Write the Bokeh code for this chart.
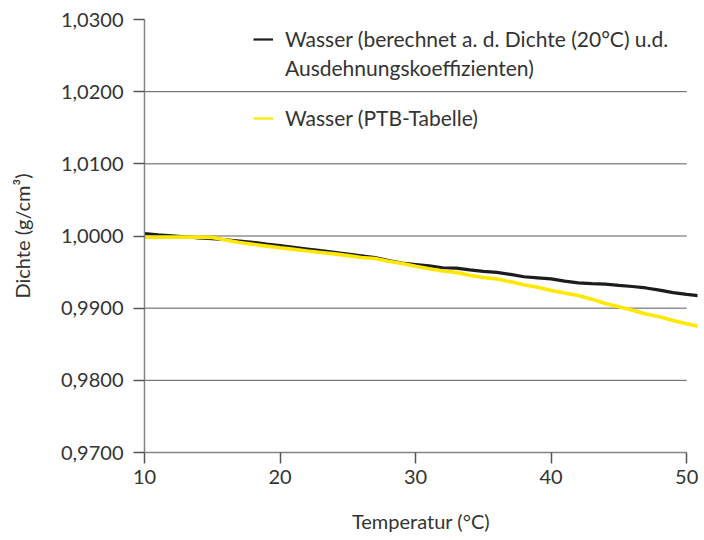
from bokeh.plotting import figure
from bokeh.models import Range1d, FixedTicker, CustomJSTickFormatter, Legend, LegendItem
from bokeh.embed import file_html
from bokeh.resources import INLINE

# ---- data ----
temperature = list(range(10, 52))
density_calc = [
    1.00035, 1.00015, 1.00003, 0.99990, 0.99975, 0.99962, 0.99948, 0.99930,
    0.99912, 0.99888, 0.99866, 0.99843, 0.99820, 0.99797, 0.99775, 0.99750,
    0.99725, 0.99700, 0.99660, 0.99625, 0.99605, 0.99585, 0.99560, 0.99555,
    0.99530, 0.99510, 0.99495, 0.99468, 0.99435, 0.99420, 0.99405, 0.99375,
    0.99350, 0.99340, 0.99332, 0.99315, 0.99300, 0.99280, 0.99250, 0.99215,
    0.99190, 0.99170,
]
density_ptb = [
    0.99985, 0.99985, 0.99985, 0.99985, 0.99985, 0.99980, 0.99945, 0.99910,
    0.99885, 0.99860, 0.99836, 0.99815, 0.99791, 0.99772, 0.99752, 0.99728,
    0.99703, 0.99688, 0.99650, 0.99620, 0.99580, 0.99545, 0.99515, 0.99496,
    0.99455, 0.99425, 0.99405, 0.99365, 0.99325, 0.99290, 0.99245, 0.99210,
    0.99175, 0.99125, 0.99065, 0.99018, 0.98970, 0.98920, 0.98880, 0.98830,
    0.98785, 0.98745,
]
x_ticks = [10, 20, 30, 40, 50]
y_ticks = [0.97, 0.98, 0.99, 1.00, 1.01, 1.02, 1.03]
grid_y = [0.98, 0.99, 1.00, 1.01, 1.02]
label_calc_1 = "Wasser (berechnet a. d. Dichte (20°C) u.d."
label_calc_2 = "Ausdehnungskoeffizienten)"
label_ptb = "Wasser (PTB-Tabelle)"
x_title = "Temperatur (°C)"
y_title = "Dichte (g/cm³)"

FONT = "Lato"
TXT = "#333333"
AX = "#858585"
BLACK = "#1c1c1c"
YELLOW = "#FFE800"

p = figure(width=704, height=540, output_backend="svg", toolbar_location=None,
           x_range=Range1d(10, 50.8), y_range=Range1d(0.97, 1.03),
           min_border_left=144, min_border_right=7, min_border_top=19,
           min_border_bottom=88)
p.outline_line_color = None
p.xgrid.visible = False
p.ygrid.visible = False

# grid lines limited to x-axis bounds
p.segment(x0=[x_ticks[0]] * len(grid_y), y0=grid_y,
          x1=[x_ticks[-1]] * len(grid_y), y1=grid_y,
          line_color="#5a5a5a", line_width=1)

p.line(temperature, density_calc, line_color=BLACK, line_width=3.2)
p.line(temperature, density_ptb, line_color=YELLOW, line_width=3.6)

# legend swatch renderers (single point -> nothing drawn in plot)
sw_calc = p.line(temperature[:1], density_calc[:1], line_color=BLACK, line_width=2.2)
sw_blank = p.line(temperature[:1], density_calc[:1], line_alpha=0)
sw_ptb = p.line(temperature[:1], density_ptb[:1], line_color=YELLOW, line_width=2.2)

# axes
for ax in (p.xaxis[0], p.yaxis[0]):
    ax.axis_line_color = AX
    ax.axis_line_width = 1.5
    ax.major_tick_line_color = "#555555"
    ax.major_tick_line_width = 1.5
    ax.major_tick_out = 11
    ax.major_tick_in = 0
    ax.minor_tick_line_color = None
    ax.major_label_text_font = FONT
    ax.major_label_text_font_size = "20px"
    ax.major_label_text_color = TXT
    ax.axis_label_text_font = FONT
    ax.axis_label_text_font_size = "20px"
    ax.axis_label_text_font_style = "normal"
    ax.axis_label_text_color = TXT

p.xaxis.ticker = FixedTicker(ticks=x_ticks)
p.xaxis.bounds = (x_ticks[0], x_ticks[-1])
p.xaxis.major_label_standoff = 6
p.xaxis.axis_label = x_title
p.xaxis.axis_label_standoff = 22

p.yaxis.ticker = FixedTicker(ticks=y_ticks)
p.yaxis.formatter = CustomJSTickFormatter(code="return tick.toFixed(4).replace('.', ',');")
p.yaxis.major_label_standoff = 10
p.yaxis.axis_label = y_title
p.yaxis.axis_label_standoff = 24


def make_legend(items, loc, spacing):
    lg = Legend(items=items, location=loc, orientation="vertical")
    lg.background_fill_alpha = 0
    lg.border_line_alpha = 0
    lg.padding = 0
    lg.margin = 0
    lg.spacing = spacing
    lg.glyph_width = 20
    lg.glyph_height = 20
    lg.label_height = 20
    lg.label_standoff = 12
    lg.label_text_font = FONT
    lg.label_text_font_size = "21px"
    lg.label_text_color = TXT
    lg.label_text_baseline = "middle"
    return lg


leg_a = make_legend([LegendItem(label=label_calc_1, renderers=[sw_calc]),
                     LegendItem(label=label_calc_2, renderers=[sw_blank])],
                    (109, 372), 4)
leg_b = make_legend([LegendItem(label=label_ptb, renderers=[sw_ptb])],
                    (109, 322), 0)
p.add_layout(leg_a, "center")
p.add_layout(leg_b, "center")

open("out.html", "w").write(file_html(p, INLINE))
